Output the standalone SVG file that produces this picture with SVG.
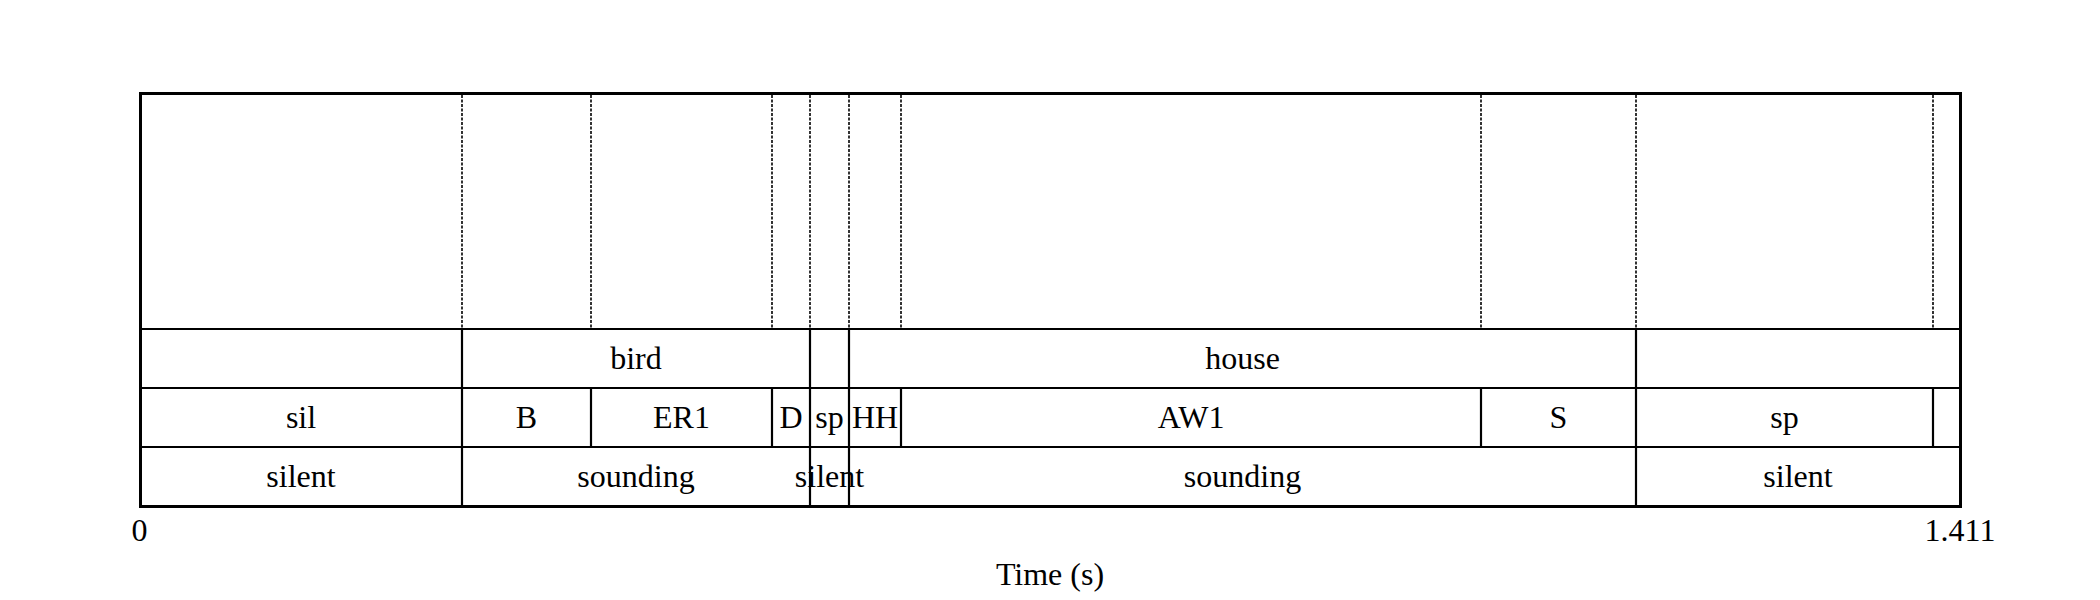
<svg xmlns="http://www.w3.org/2000/svg" width="2100" height="600" viewBox="0 0 2100 600">
<style>
  text { font-family: "Liberation Serif", "Times New Roman", serif; font-size: 32px; fill: #000; text-anchor: middle; }
  .frame { fill: none; stroke: #000; stroke-width: 3; }
  .tierline { stroke: #000; stroke-width: 2.2; fill: none; }
  .bound { stroke: #000; stroke-width: 2.2; }
  .dotted { stroke: #000; stroke-width: 1.6; stroke-dasharray: 3 1.5; }
</style>
<rect width="2100" height="600" fill="#fff"/>

<g id="connectors">
  <line class="dotted" x1="462" y1="95" x2="462" y2="328"/>
  <line class="dotted" x1="591" y1="95" x2="591" y2="328"/>
  <line class="dotted" x1="772" y1="95" x2="772" y2="328"/>
  <line class="dotted" x1="810" y1="95" x2="810" y2="328"/>
  <line class="dotted" x1="849" y1="95" x2="849" y2="328"/>
  <line class="dotted" x1="901" y1="95" x2="901" y2="328"/>
  <line class="dotted" x1="1481" y1="95" x2="1481" y2="328"/>
  <line class="dotted" x1="1636" y1="95" x2="1636" y2="328"/>
  <line class="dotted" x1="1933" y1="95" x2="1933" y2="328"/>
  <line class="tierline" x1="140.5" y1="329" x2="1960.5" y2="329"/>
  <line class="tierline" x1="140.5" y1="388" x2="1960.5" y2="388"/>
  <line class="tierline" x1="140.5" y1="447" x2="1960.5" y2="447"/>
</g>

<g id="tier-words">
  <line class="bound" x1="462" y1="329" x2="462" y2="388"/>
  <line class="bound" x1="810" y1="329" x2="810" y2="388"/>
  <line class="bound" x1="849" y1="329" x2="849" y2="388"/>
  <line class="bound" x1="1636" y1="329" x2="1636" y2="388"/>
  <text x="636" y="368.5">bird</text>
  <text x="1242.5" y="368.5">house</text>
</g>

<g id="tier-phones">
  <line class="bound" x1="462" y1="388" x2="462" y2="447"/>
  <line class="bound" x1="591" y1="388" x2="591" y2="447"/>
  <line class="bound" x1="772" y1="388" x2="772" y2="447"/>
  <line class="bound" x1="810" y1="388" x2="810" y2="447"/>
  <line class="bound" x1="849" y1="388" x2="849" y2="447"/>
  <line class="bound" x1="901" y1="388" x2="901" y2="447"/>
  <line class="bound" x1="1481" y1="388" x2="1481" y2="447"/>
  <line class="bound" x1="1636" y1="388" x2="1636" y2="447"/>
  <line class="bound" x1="1933" y1="388" x2="1933" y2="447"/>
  <text x="301" y="427.5">sil</text>
  <text x="526.5" y="427.5">B</text>
  <text x="681.5" y="427.5">ER1</text>
  <text x="791" y="427.5">D</text>
  <text x="829.5" y="427.5">sp</text>
  <text x="875" y="427.5">HH</text>
  <text x="1191" y="427.5">AW1</text>
  <text x="1558.5" y="427.5">S</text>
  <text x="1784.5" y="427.5">sp</text>
</g>

<g id="tier-voicing">
  <line class="bound" x1="462" y1="447" x2="462" y2="506"/>
  <line class="bound" x1="810" y1="447" x2="810" y2="506"/>
  <line class="bound" x1="849" y1="447" x2="849" y2="506"/>
  <line class="bound" x1="1636" y1="447" x2="1636" y2="506"/>
  <text x="301" y="486.7">silent</text>
  <text x="636" y="486.7">sounding</text>
  <text x="829.5" y="486.7">silent</text>
  <text x="1242.5" y="486.7">sounding</text>
  <text x="1798" y="486.7">silent</text>
</g>

<g id="frame">
  <rect class="frame" x="140.5" y="93.5" width="1820" height="413"/>
</g>

<g id="axis">
  <text x="139.5" y="540.7">0</text>
  <text x="1960" y="540.7">1.411</text>
  <text x="1050" y="585">Time (s)</text>
</g>
</svg>
